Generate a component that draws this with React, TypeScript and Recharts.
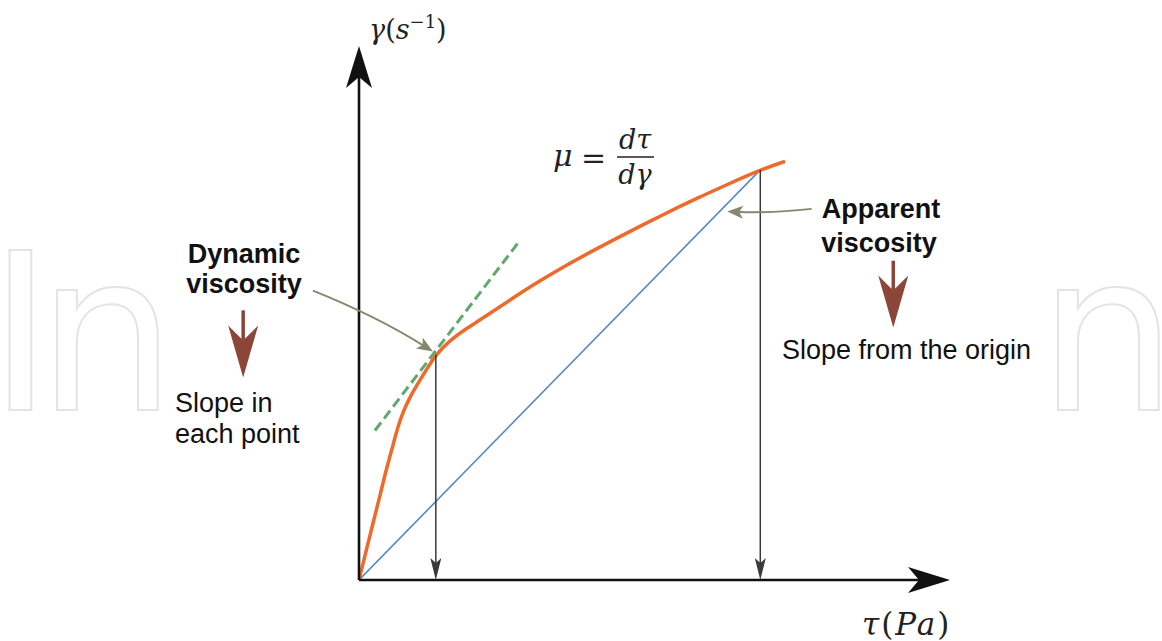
import React from "react";
import { ComposedChart, Line, XAxis, YAxis, ReferenceLine } from "recharts";

// Flow curve: shear stress τ against shear rate γ (arbitrary units)
const curveTau = [0, 1.2, 2.4, 3.6, 4.7, 5.8, 6.6, 7.5, 8.5, 9.8, 11.3, 13.0, 15.4, 17.9, 20.5, 23.9, 28.9, 34.5, 40.3, 45.9, 51.4, 57.2, 62.8, 67.9, 72.1];
const curveGamma = [0, 5.4, 10.8, 16.0, 21.1, 25.4, 28.8, 31.6, 34.0, 36.5, 39.2, 42.2, 44.9, 46.9, 48.7, 51.2, 54.9, 58.6, 62.1, 65.3, 68.4, 71.5, 74.3, 76.8, 78.4];

// Secant from the origin (apparent viscosity)
const secantTau = [0, 67.9];
const secantGamma = [0, 76.8];

// Tangent at one point (dynamic viscosity)
const tangentTau = [2.7, 27.1];
const tangentGamma = [28.0, 63.4];

// Marked points on the curve
const dynamicPoint = { tau: 13.0, gamma: 42.2 };
const apparentPoint = { tau: 67.9, gamma: 76.8 };

// Callout pointers: [start, end] in τ/γ units
const dynamicPointer = [{ x: -7.8, y: 54.2 }, { x: 12.5, y: 42.8 }];
const apparentPointer = [{ x: 76.6, y: 69.5 }, { x: 62.3, y: 69.0 }];
const dynamicDownArrow = [{ x: -19.6, y: 50.5 }, { x: -19.6, y: 37.9 }];
const apparentDownArrow = [{ x: 90.4, y: 59.8 }, { x: 90.4, y: 47.3 }];

const toRows = (xs: number[], ys: number[]) => xs.map((x, i) => ({ tau: x, gamma: ys[i] }));

type ArrowOpts = { color: string; width: number; head: number; half: number; notch: number; bend?: number };

// line (optionally bent) with a barbed arrow head at (x2, y2)
const arrowShape = (o: ArrowOpts) => (p: any) => {
  const { x1, y1, x2, y2 } = p;
  const dx = x2 - x1;
  const dy = y2 - y1;
  const len = Math.hypot(dx, dy) || 1;
  const b = o.bend ?? 0;
  const cx = (x1 + x2) / 2 + (-dy / len) * b;
  const cy = (y1 + y2) / 2 + (dx / len) * b;
  const fx = b ? cx : x1;
  const fy = b ? cy : y1;
  const tl = Math.hypot(x2 - fx, y2 - fy) || 1;
  const ux = (x2 - fx) / tl;
  const uy = (y2 - fy) / tl;
  const bx = x2 - ux * o.head;
  const by = y2 - uy * o.head;
  const sx = x2 - ux * (o.head - o.notch);
  const sy = y2 - uy * (o.head - o.notch);
  const px = -uy;
  const py = ux;
  const pts = `${x2},${y2} ${bx + px * o.half},${by + py * o.half} ${sx},${sy} ${bx - px * o.half},${by - py * o.half}`;
  const d = b ? `M${x1},${y1} Q${cx},${cy} ${sx},${sy}` : `M${x1},${y1} L${sx},${sy}`;
  return (
    <g>
      <path d={d} fill="none" stroke={o.color} strokeWidth={o.width} />
      <polygon points={pts} fill={o.color} />
    </g>
  );
};

const axisArrow = arrowShape({ color: "#111", width: 2.6, head: 42, half: 13, notch: 11 });
const dropArrow = arrowShape({ color: "#3a3a3a", width: 1.5, head: 22, half: 5.5, notch: 5 });
const brownArrow = arrowShape({ color: "#8b4637", width: 3.5, head: 52, half: 15, notch: 15 });

const sans = "'Liberation Sans', Arial, sans-serif";
const serif = "'DejaVu Serif', 'Liberation Serif', serif";

export default function App() {
  return (
    <div style={{ position: "absolute", left: 0, top: 0, width: 1162, height: 641, background: "#fff", overflow: "hidden" }}>
      {/* faint publisher mark, visible only at both sides of the figure */}
      <svg width={1162} height={641} style={{ position: "absolute", left: 0, top: 0 }}>
        <g fontFamily="'DejaVu Sans', sans-serif" fontSize={220} fill="#fff" stroke="#e4e4e4" strokeWidth={2}>
          <text x={-12} y={410} letterSpacing={-16}>In</text>
          <text x={1038} y={410}>n</text>
        </g>
        <rect x={172} y={0} width={858} height={641} fill="#fff" />
      </svg>

      <div style={{ position: "absolute", left: 0, top: 0 }}>
        <ComposedChart width={1162} height={641} margin={{ top: 46, right: 212, bottom: 61, left: 359 }}>
          <XAxis type="number" dataKey="tau" domain={[0, 100]} allowDataOverflow hide />
          <YAxis type="number" dataKey="gamma" domain={[0, 100]} allowDataOverflow hide />

          <Line
            data={toRows(secantTau, secantGamma)}
            dataKey="gamma"
            type="linear"
            stroke="#5b87c0"
            strokeWidth={1.6}
            dot={false}
            isAnimationActive={false}
          />
          <Line
            data={toRows(tangentTau, tangentGamma)}
            dataKey="gamma"
            type="linear"
            stroke="#5fa86e"
            strokeWidth={3}
            strokeDasharray="10 5"
            dot={false}
            isAnimationActive={false}
          />
          <Line
            data={toRows(curveTau, curveGamma)}
            dataKey="gamma"
            type="basis"
            stroke="#ee6a2c"
            strokeWidth={3.5}
            dot={false}
            isAnimationActive={false}
          />

          {/* value drop lines */}
          <ReferenceLine
            segment={[{ x: dynamicPoint.tau, y: dynamicPoint.gamma }, { x: dynamicPoint.tau, y: 0 }]}
            ifOverflow="visible"
            shape={dropArrow}
          />
          <ReferenceLine
            segment={[{ x: apparentPoint.tau, y: apparentPoint.gamma }, { x: apparentPoint.tau, y: 0 }]}
            ifOverflow="visible"
            shape={dropArrow}
          />

          {/* axes */}
          <ReferenceLine segment={[{ x: 0, y: 0 }, { x: 100, y: 0 }]} ifOverflow="visible" shape={axisArrow} />
          <ReferenceLine segment={[{ x: 0, y: 0 }, { x: 0, y: 100 }]} ifOverflow="visible" shape={axisArrow} />

          {/* callout pointers */}
          <ReferenceLine
            segment={dynamicPointer}
            ifOverflow="visible"
            shape={arrowShape({ color: "#87876f", width: 2, head: 16, half: 6.5, notch: 4, bend: -6 })}
          />
          <ReferenceLine
            segment={apparentPointer}
            ifOverflow="visible"
            shape={arrowShape({ color: "#87876f", width: 2, head: 16, half: 6.5, notch: 4, bend: -3 })}
          />
          <ReferenceLine segment={dynamicDownArrow} ifOverflow="visible" shape={brownArrow} />
          <ReferenceLine segment={apparentDownArrow} ifOverflow="visible" shape={brownArrow} />
        </ComposedChart>
      </div>

      {/* labels */}
      <svg width={1162} height={641} style={{ position: "absolute", left: 0, top: 0, pointerEvents: "none" }}>
        <defs>
          <clipPath id="figClip">
            <rect x={172} y={0} width={858} height={641} />
          </clipPath>
        </defs>

        <text x={369} y={39} fontFamily={serif} fontStyle="italic" fontSize={27} fill="#222">
          γ<tspan fontStyle="normal">(</tspan>s<tspan dy={-11} fontSize={18} fontStyle="normal">−1</tspan>
          <tspan dy={11} fontStyle="normal">)</tspan>
        </text>
        <text x={862} y={635} fontFamily={serif} fontStyle="italic" fontSize={31} letterSpacing={2} fill="#222">
          τ<tspan fontStyle="normal">(</tspan>Pa<tspan fontStyle="normal">)</tspan>
        </text>

        <g fontFamily={serif} fontStyle="italic" fill="#222">
          <text x={553} y={166} fontSize={30}>μ</text>
          <text x={581} y={168} fontSize={30} fontStyle="normal">=</text>
          <line x1={617} y1={157} x2={654} y2={157} stroke="#222" strokeWidth={1.6} />
          <text x={635} y={149} fontSize={27} textAnchor="middle">dτ</text>
          <text x={635} y={184} fontSize={27} textAnchor="middle">dγ</text>
        </g>

        <g fontFamily={sans} fontSize={27} fill="#111">
          <text x={244} y={263} fontWeight="bold" textAnchor="middle">Dynamic</text>
          <text x={244} y={293} fontWeight="bold" textAnchor="middle">viscosity</text>
          <text x={175} y={412}>Slope in</text>
          <text x={175} y={443}>each point</text>
          <text x={881} y={218} fontWeight="bold" textAnchor="middle">Apparent</text>
          <text x={879} y={252} fontWeight="bold" textAnchor="middle">viscosity</text>
          <text x={782} y={359} clipPath="url(#figClip)">Slope from the origin</text>
        </g>
      </svg>
    </div>
  );
}
